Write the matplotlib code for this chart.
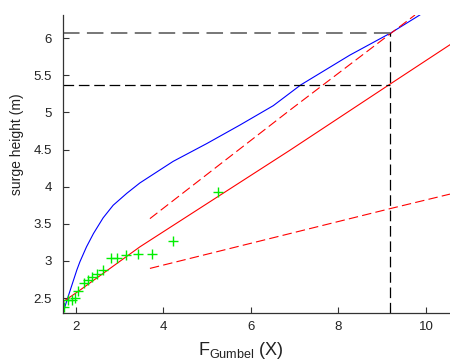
import matplotlib
matplotlib.use("Agg")
import matplotlib.pyplot as plt

plt.rcParams['font.family'] = ['Liberation Sans', 'DejaVu Sans']
plt.rcParams['mathtext.fontset'] = 'custom'
plt.rcParams['mathtext.rm'] = 'Liberation Sans'

# observed data (Gumbel reduced variate vs surge height)
obs_x = [1.73, 1.81, 1.90, 1.98, 2.05, 2.19, 2.28, 2.36, 2.47, 2.62, 2.81, 2.93, 3.14, 3.41, 3.73, 4.22, 5.25]
obs_y = [2.38, 2.47, 2.48, 2.50, 2.59, 2.70, 2.75, 2.79, 2.82, 2.88, 3.04, 3.04, 3.08, 3.09, 3.09, 3.27, 3.93]

# blue curve
blue_x = [1.70, 1.82, 2.02, 2.09, 2.24, 2.40, 2.62, 2.85, 3.16, 3.46, 4.22, 4.99, 5.75, 6.51, 7.14, 8.26, 9.20, 9.86]
blue_y = [2.30, 2.52, 2.88, 2.99, 3.19, 3.37, 3.58, 3.75, 3.91, 4.05, 4.34, 4.58, 4.83, 5.09, 5.37, 5.77, 6.07, 6.31]

# red fit and confidence bounds
fit_x = [1.70, 2.05, 3.46, 6.89, 9.18, 10.55]
fit_y = [2.45, 2.59, 3.19, 4.49, 5.38, 5.91]
upper_x = [3.69, 6.89, 9.75]
upper_y = [3.57, 5.03, 6.31]
lower_x = [3.69, 9.22, 10.55]
lower_y = [2.90, 3.71, 3.90]

# reference levels
x_ref = 9.18
y_ref_high = 6.07
y_ref_low = 5.37

xticks = [2, 4, 6, 8, 10]
yticks = [2.5, 3, 3.5, 4, 4.5, 5, 5.5, 6]
ytick_labels = ['2.5', '3', '3.5', '4', '4.5', '5', '5.5', '6']

W, H = 450, 359
fig = plt.figure(figsize=(W / 100, H / 100), dpi=100)
ax = fig.add_axes([63 / W, 46 / H, 387 / W, 298 / H])
xmin, ymin = 1.703, 2.30
ax.set_xlim(xmin, 10.55)
ax.set_ylim(ymin, 6.31)

dash = (0, (8.5, 3.8))
ax.plot(blue_x, blue_y, color='#0000ff', lw=0.8)
ax.plot(fit_x, fit_y, color='#ff0000', lw=0.8)
ax.plot(upper_x, upper_y, color='#ff0000', lw=0.8, linestyle=dash)
ax.plot(lower_x, lower_y, color='#ff0000', lw=0.8, linestyle=dash)
ax.plot(obs_x, obs_y, linestyle='none', marker='+', color='#00ee00', ms=7, mew=1.0)

ax.plot([xmin, x_ref], [y_ref_high, y_ref_high], color='#777777', lw=1.4, linestyle=dash)
ax.plot([xmin, x_ref], [y_ref_low, y_ref_low], color='black', lw=0.9, linestyle=dash)
ax.plot([x_ref, x_ref], [ymin, y_ref_high], color='black', lw=0.9, linestyle=dash)

ax.set_xticks(xticks)
ax.set_xticklabels([str(t) for t in xticks])
ax.set_yticks(yticks)
ax.set_yticklabels(ytick_labels)
ax.tick_params(direction='in', length=4, width=0.8, labelsize=9.5, colors='#333333',
               labelcolor='#222222')
ax.tick_params(axis='x', pad=6)
ax.tick_params(axis='y', pad=8)
for s in ['top', 'right']:
    ax.spines[s].set_visible(False)
for s in ['left', 'bottom']:
    ax.spines[s].set_color('#333333')
    ax.spines[s].set_linewidth(0.9)

fig.text(17 / W, 1 - 144 / H, 'surge height (m)', rotation=90, ha='center', va='center',
         fontsize=10, color='#222222')
fig.text(198 / W, (H - 355) / H, r'$\mathrm{F}_{\mathrm{Gumbel}}$ (X)', ha='left', va='baseline',
         fontsize=13, color='#222222')

fig.savefig('out.png', dpi=100)
